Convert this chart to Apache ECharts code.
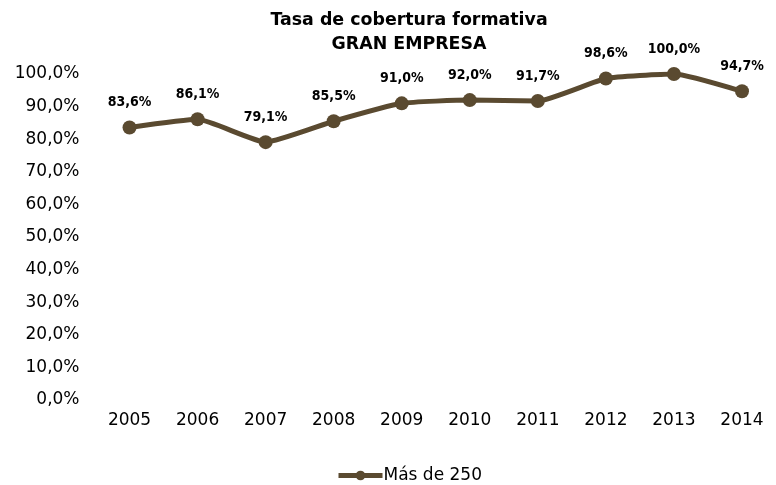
<!DOCTYPE html>
<html><head><meta charset="utf-8">
<script src="https://cdn.jsdelivr.net/npm/echarts@6/dist/echarts.min.js"></script>
<style>html,body{margin:0;padding:0;background:#fff}#c{width:776px;height:485px}</style>
</head><body><div id="c"></div>
<script>
const categories = ['2005','2006','2007','2008','2009','2010','2011','2012','2013','2014'];
const values = [83.6, 86.1, 79.1, 85.5, 91.0, 92.0, 91.7, 98.6, 100.0, 94.7];
const seriesName = 'Más de 250';
const titleText = 'Tasa de cobertura formativa\nGRAN EMPRESA';
const fmt = v => v.toFixed(1).replace('.', ',') + '%';
const chart = echarts.init(document.getElementById('c'));
chart.setOption({
  animation: false,
  textStyle: { fontFamily: 'DejaVu Sans' },
  title: {
    text: titleText, left: 404, top: 4, textAlign: 'center',
    textStyle: { fontFamily: 'DejaVu Sans', fontSize: 17.4, fontWeight: 'bold', color: '#000', lineHeight: 23.5 }
  },
  legend: {
    top: 462, left: 331, itemWidth: 44, itemHeight: 12, itemGap: 5,
    lineStyle: { width: 5, color: '#5a4a30' },
    textStyle: { fontFamily: 'DejaVu Sans', fontSize: 17, color: '#000', padding: [0,0,0,-4] },
    data: [seriesName]
  },
  grid: { left: 95.5, right: -9.5, top: 74, bottom: 85, containLabel: false },
  xAxis: {
    type: 'category', data: categories, boundaryGap: true,
    axisLine: { show: false }, axisTick: { show: false },
    axisLabel: { fontFamily: 'DejaVu Sans', fontSize: 17, color: '#000', margin: 12 }
  },
  yAxis: {
    type: 'value', min: 0, max: 100, interval: 10,
    splitLine: { show: false }, axisLine: { show: false }, axisTick: { show: false },
    axisLabel: { fontFamily: 'DejaVu Sans', fontSize: 17, color: '#000', margin: 16, formatter: v => fmt(v) }
  },
  series: [{
    name: seriesName, type: 'line', data: values, smooth: 0.15,
    symbol: 'circle', symbolSize: 14,
    lineStyle: { color: '#5a4a30', width: 5 },
    itemStyle: { color: '#5a4a30' },
    label: {
      show: true, position: 'top', distance: 11,
      fontFamily: 'DejaVu Sans Condensed', fontSize: 14, fontWeight: 'bold', color: '#000',
      formatter: p => fmt(p.value)
    }
  }]
});
</script></body></html>
